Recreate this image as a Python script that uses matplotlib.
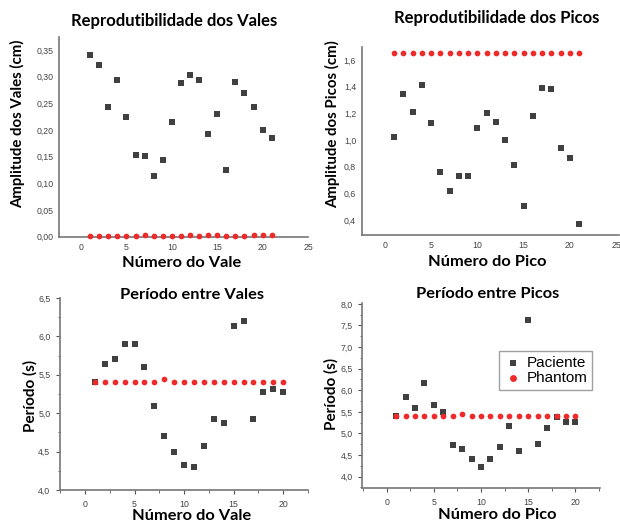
import numpy as np
import matplotlib
matplotlib.use("Agg")
import matplotlib.pyplot as plt
from matplotlib.ticker import MultipleLocator, FuncFormatter

# dados
vale_n = list(range(1, 22))
vale_pac = [0.341, 0.321, 0.243, 0.294, 0.224, 0.152, 0.151, 0.114, 0.144, 0.215, 0.288,
            0.304, 0.294, 0.193, 0.229, 0.124, 0.290, 0.269, 0.243, 0.199, 0.184]
vale_pha = [0.001, 0.0005, 0.001, 0.001, 0.0, 0.001, 0.002, 0.0, 0.001, 0.0015, 0.001,
            0.002, 0.001, 0.002, 0.002, 0.001, 0.001, 0.001, 0.002, 0.002, 0.003]

pico_n = list(range(1, 22))
pico_pac = [1.025, 1.348, 1.208, 1.413, 1.128, 0.758, 0.62, 0.73, 0.73, 1.088, 1.203,
            1.138, 1.0, 0.813, 0.505, 1.18, 1.39, 1.383, 0.943, 0.865, 0.373]
pico_pha = [1.655] * 21

per_n = list(range(1, 21))
per_vale_pac = [5.40, 5.636, 5.70, 5.907, 5.907, 5.60, 5.10, 4.70, 4.50, 4.327,
                4.297, 4.57, 4.93, 4.87, 6.14, 6.20, 4.93, 5.27, 5.31, 5.27]
per_vale_pha = [5.405, 5.405, 5.405, 5.405, 5.405, 5.405, 5.405, 5.44, 5.405, 5.405,
                5.405, 5.405, 5.405, 5.405, 5.405, 5.405, 5.405, 5.405, 5.405, 5.405]
per_pico_pac = [5.40, 5.834, 5.60, 6.166, 5.663, 5.493, 4.727, 4.634, 4.40, 4.232,
                4.40, 4.696, 5.176, 4.596, 7.636, 4.766, 5.13, 5.37, 5.26, 5.26]
per_pico_pha = [5.408, 5.408, 5.408, 5.408, 5.408, 5.408, 5.408, 5.44, 5.408, 5.408,
                5.408, 5.408, 5.408, 5.408, 5.408, 5.408, 5.408, 5.408, 5.408, 5.408]

W, H = 620, 524
GRAY = '#404040'
RED = '#ee2a2a'
TITLE_FONT = ['Lato', 'DejaVu Sans']
TICK_FONT = ['Liberation Sans', 'DejaVu Sans']

fig = plt.figure(figsize=(6.2, 5.24), dpi=100)


def box(l, r, t, b):
    return [l / W, (H - b) / H, (r - l) / W, (b - t) / H]


def txt(x, y, s, size, rot=0):
    fig.text(x / W, (H - y) / H, s, ha='center', va='center', rotation=rot,
             fontsize=size, fontweight='bold', family=TITLE_FONT)


def style(ax, xlim, ylim, xmaj, ymaj, fmt, ticks=True):
    ax.set_xlim(*xlim)
    ax.set_ylim(*ylim)
    for s in ['top', 'right']:
        ax.spines[s].set_visible(False)
    for s in ['left', 'bottom']:
        ax.spines[s].set_color('#777777')
        ax.spines[s].set_linewidth(1.2)
    ax.xaxis.set_major_locator(MultipleLocator(xmaj))
    ax.yaxis.set_major_locator(MultipleLocator(ymaj))
    ax.yaxis.set_major_formatter(FuncFormatter(lambda v, p: (fmt % v).replace('.', ',')))
    ax.xaxis.set_major_formatter(FuncFormatter(lambda v, p: '%d' % round(v)))
    if ticks:
        ax.xaxis.set_minor_locator(MultipleLocator(xmaj / 2))
        ax.yaxis.set_minor_locator(MultipleLocator(ymaj / 2))
        ax.tick_params(which='major', length=3, width=0.8, color='#555555')
        ax.tick_params(which='minor', length=1.8, width=0.6, color='#555555')
    else:
        ax.tick_params(which='both', length=0)
    ax.tick_params(which='both', labelsize=6.3, labelcolor='#444444', pad=4)
    for lab in ax.get_xticklabels() + ax.get_yticklabels():
        lab.set_family(TICK_FONT)
    ax.patch.set_alpha(0)


def pontos(ax, x, pac, pha):
    ax.scatter(x, pac, marker='s', s=15, color=GRAY, linewidths=0, label='Paciente',
               clip_on=False, zorder=3)
    ax.scatter(x, pha, marker='o', s=17, color=RED, linewidths=0, label='Phantom',
               clip_on=False, zorder=4)


# Reprodutibilidade dos Vales
ax1 = fig.add_axes(box(59.3, 308, 36.7, 237))
pontos(ax1, vale_n, vale_pac, vale_pha)
style(ax1, (-2.4, 25), (-0.001, 0.375), 5, 0.05, '%.2f', ticks=False)
txt(174, 21, 'Reprodutibilidade dos Vales', 12)
txt(18, 124, 'Amplitude dos Vales (cm)', 10.8, 90)
txt(182, 263, 'Número do Vale', 11.8)

# Reprodutibilidade dos Picos
ax2 = fig.add_axes(box(361.7, 618.8, 46.7, 235))
pontos(ax2, pico_n, pico_pac, pico_pha)
style(ax2, (-2.52, 25.3), (0.2875, 1.7), 5, 0.2, '%.1f', ticks=False)
txt(497, 18, 'Reprodutibilidade dos Picos', 12)
txt(333, 124, 'Amplitude dos Picos (cm)', 10.8, 90)
txt(487, 262, 'Número do Pico', 11.8)

# Periodo entre Vales
ax3 = fig.add_axes(box(60, 308, 298, 490))
pontos(ax3, per_n, per_vale_pac, per_vale_pha)
style(ax3, (-2.52, 22.5), (4.0, 6.5), 5, 0.5, '%.1f')
txt(192, 295, 'Período entre Vales', 11.8)
txt(30, 396, 'Período (s)', 11, 90)
txt(192, 516, 'Número do Vale', 11.8)

# Periodo entre Picos
ax4 = fig.add_axes(box(362.3, 600, 303, 488.3))
pontos(ax4, per_n, per_pico_pac, per_pico_pha)
style(ax4, (-2.58, 22.6), (3.73, 8.02), 5, 0.5, '%.1f')
txt(487.5, 294, 'Período entre Picos', 11.8)
txt(331.7, 394, 'Período (s)', 11, 90)
txt(497, 515, 'Número do Pico', 11.8)

leg = ax4.legend(loc='upper left', bbox_to_anchor=((499.3 - 362.3) / (600 - 362.3), (488.3 - 351) / (488.3 - 303)),
                 frameon=True, fancybox=False, prop={'family': TICK_FONT, 'size': 11},
                 handletextpad=0.3, borderpad=0.3, labelspacing=0.1, handlelength=1.2,
                 borderaxespad=0, markerscale=1.2)
leg.get_frame().set_edgecolor('#888888')
leg.get_frame().set_linewidth(1.0)

fig.savefig('out.png', dpi=100)
